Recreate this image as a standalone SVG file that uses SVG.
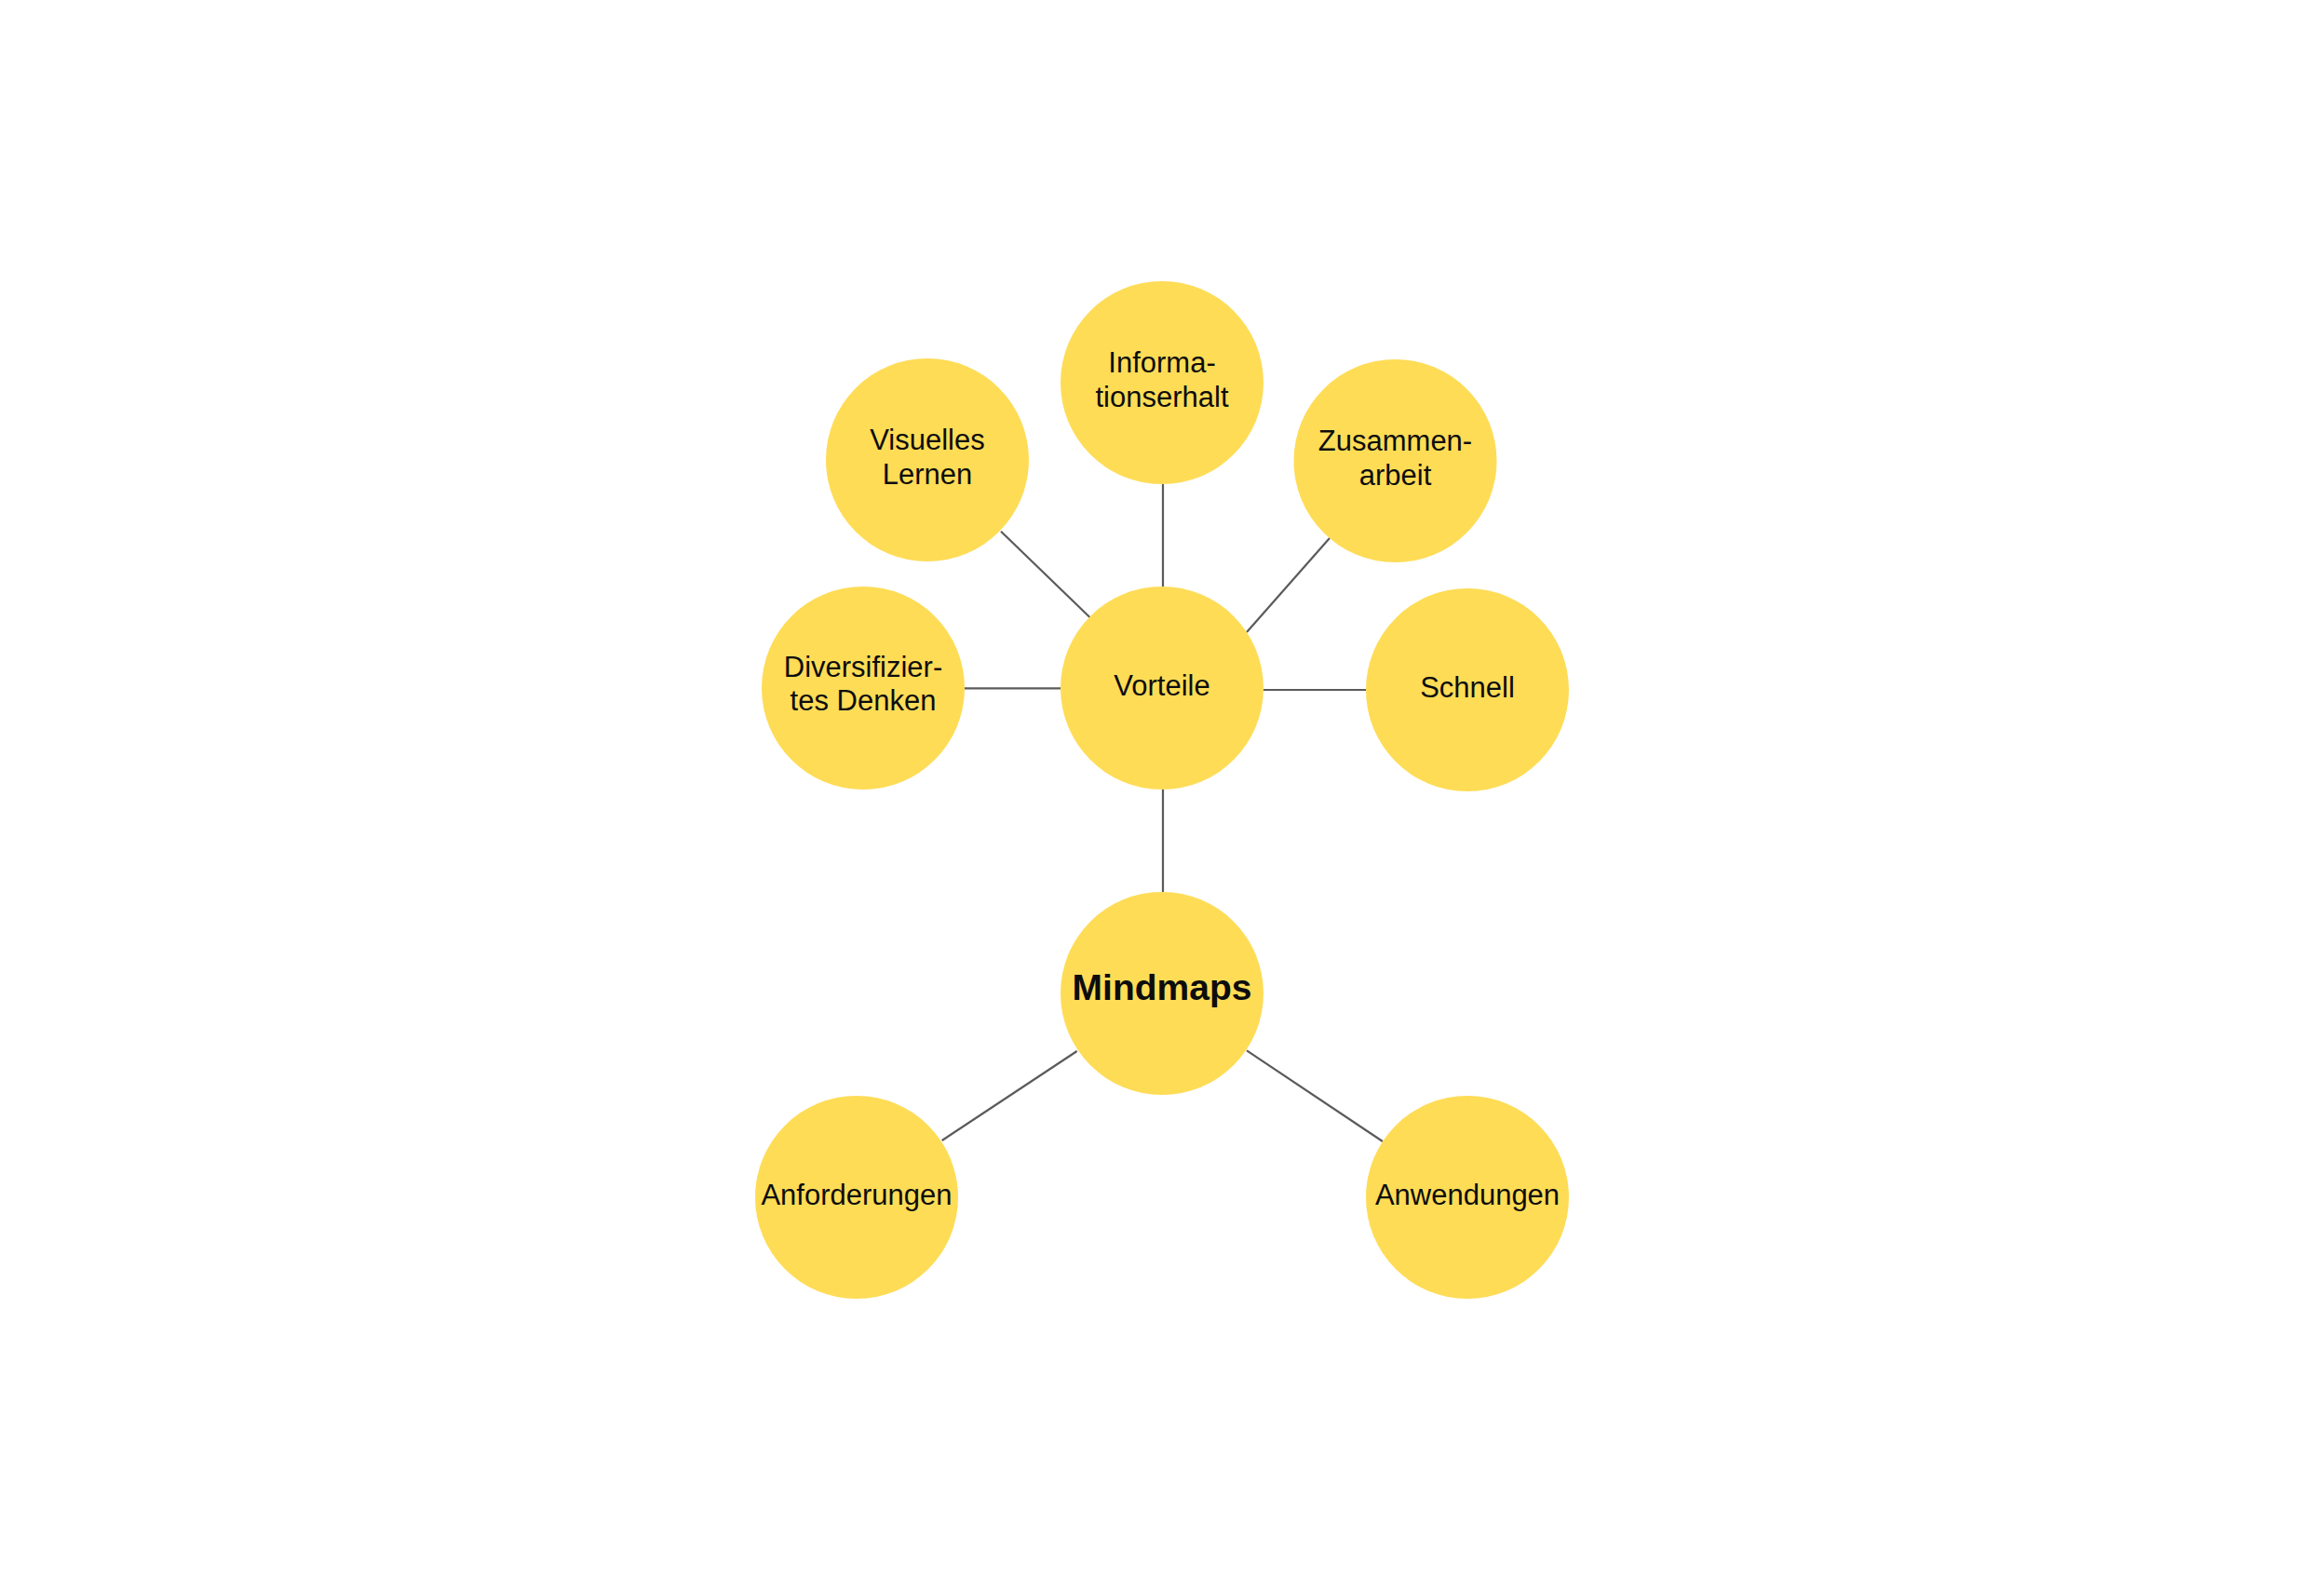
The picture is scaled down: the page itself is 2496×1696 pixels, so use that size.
<svg xmlns="http://www.w3.org/2000/svg" width="2496" height="1696" viewBox="0 0 2496 1696">
<style>
.bg{fill:#ffffff}
.node circle{fill:#fedc56}
.node text{font-family:"Liberation Sans",Arial,sans-serif;font-size:31px;fill:#0d0d0d;text-anchor:middle}
.node text.main{font-size:39px;font-weight:bold}
#connectors line{stroke:#5a5a5a;stroke-width:2.2;fill:none}
</style>
<rect class="bg" x="0" y="0" width="2496" height="1696"/>
<g id="connectors">
<line x1="1075" y1="570.7" x2="1170.7" y2="663.3"/>
<line x1="1249" y1="520" x2="1249" y2="630"/>
<line x1="1428" y1="578" x2="1339" y2="679"/>
<line x1="1036" y1="739.3" x2="1139" y2="739.3"/>
<line x1="1357" y1="741" x2="1467" y2="741"/>
<line x1="1249" y1="848" x2="1249" y2="958"/>
<line x1="1156.7" y1="1129" x2="1011.7" y2="1225"/>
<line x1="1339" y1="1128.3" x2="1485" y2="1226"/>
</g>
<g id="node-mindmaps" class="node">
<circle cx="1248" cy="1067" r="109"/>
<text class="main" x="1248" y="1074">Mindmaps</text>
</g>
<g id="node-vorteile" class="node">
<circle cx="1248" cy="739" r="109"/>
<text x="1248" y="747">Vorteile</text>
</g>
<g id="node-informationserhalt" class="node">
<circle cx="1248" cy="411" r="109"/>
<text x="1248" y="400">Informa-</text>
<text x="1248" y="437">tionserhalt</text>
</g>
<g id="node-visuelles" class="node">
<circle cx="996" cy="494" r="109"/>
<text x="996" y="483">Visuelles</text>
<text x="996" y="520">Lernen</text>
</g>
<g id="node-zusammenarbeit" class="node">
<circle cx="1498.5" cy="495" r="109"/>
<text x="1498.5" y="484">Zusammen-</text>
<text x="1498.5" y="521">arbeit</text>
</g>
<g id="node-diversifiziertes" class="node">
<circle cx="927" cy="739" r="109"/>
<text x="927" y="727">Diversifizier-</text>
<text x="927" y="763">tes Denken</text>
</g>
<g id="node-schnell" class="node">
<circle cx="1576" cy="741" r="109"/>
<text x="1576" y="749">Schnell</text>
</g>
<g id="node-anforderungen" class="node">
<circle cx="920" cy="1286" r="109"/>
<text x="920" y="1294">Anforderungen</text>
</g>
<g id="node-anwendungen" class="node">
<circle cx="1576" cy="1286" r="109"/>
<text x="1576" y="1294">Anwendungen</text>
</g>
</svg>
